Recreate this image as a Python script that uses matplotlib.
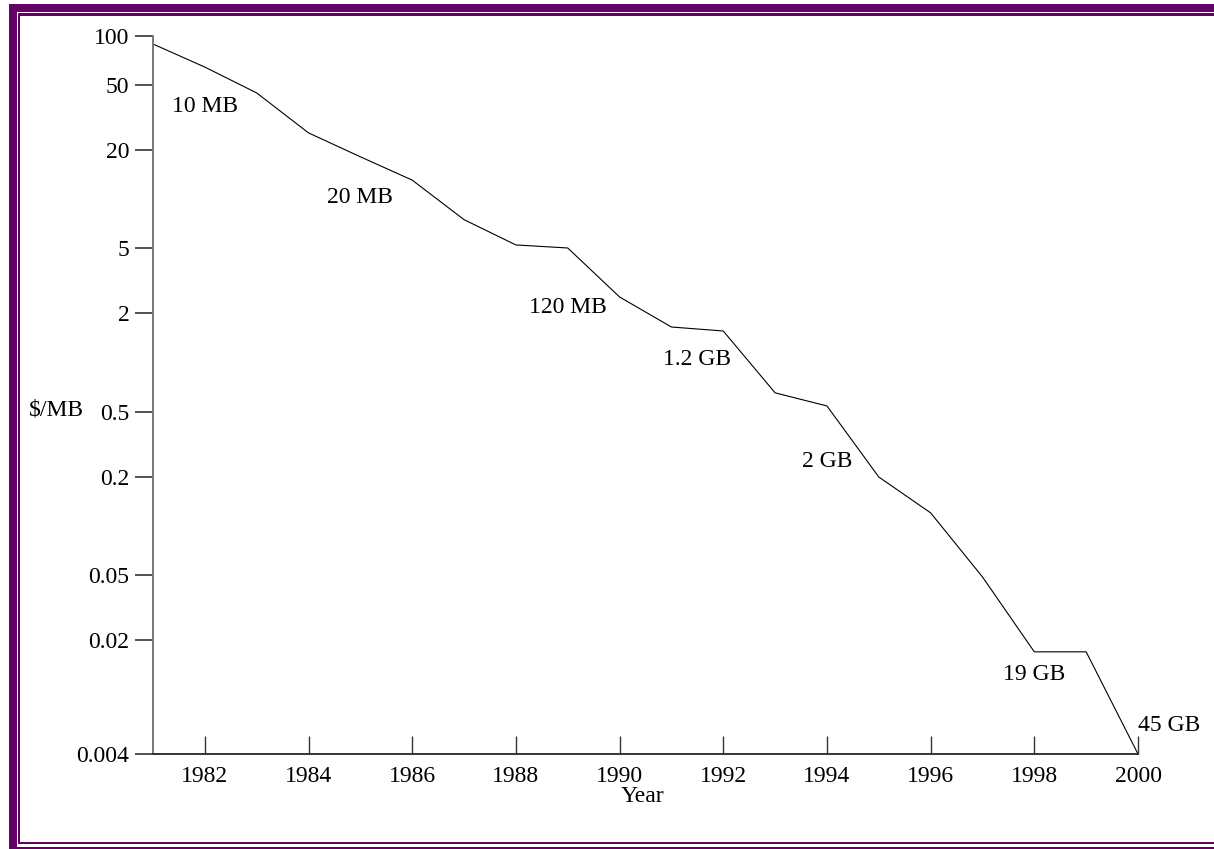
import matplotlib
matplotlib.use("Agg")
import matplotlib.pyplot as plt
from matplotlib.patches import Rectangle
from matplotlib.ticker import FixedLocator, FixedFormatter, NullLocator

# price of disk storage, $ per MB
years = [1981, 1982, 1983, 1984, 1985, 1986, 1987, 1988, 1989, 1990,
         1991, 1992, 1993, 1994, 1995, 1996, 1997, 1998, 1999, 2000]
dollars_per_mb = [89.3, 64.5, 44.8, 25.5, 18.2, 13.1, 7.5, 5.25, 5.03, 2.52,
                  1.65, 1.56, 0.652, 0.542, 0.199, 0.12, 0.0486, 0.0169, 0.0169, 0.004]

# drive capacity notes along the curve
note_texts = ["10 MB", "20 MB", "120 MB", "1.2 GB", "2 GB", "19 GB", "45 GB"]
note_years = [1982.0, 1985.0, 1989.0, 1991.5, 1994.0, 1998.0, 2000.0]
note_values = [37.2, 10.3, 2.16, 1.04, 0.249, 0.0122, 0.0060]

y_ticks = [100, 50, 20, 5, 2, 0.5, 0.2, 0.05, 0.02, 0.004]
y_tick_labels = ["100", "50", "20", "5", "2", "0.5", "0.2", "0.05", "0.02", "0.004"]
x_ticks = [1982, 1984, 1986, 1988, 1990, 1992, 1994, 1996, 1998, 2000]

W, H = 1214, 849
purple = "#660066"

plt.rcParams["font.family"] = ["Liberation Serif", "DejaVu Serif"]
plt.rcParams["font.size"] = 17

fig = plt.figure(figsize=(W / 100, H / 100), dpi=100)
ax = fig.add_axes([153 / W, 1 - 754 / H, (1138 - 153) / W, (754 - 36) / H])

ax.plot(years, dollars_per_mb, color="black", linewidth=0.8)
ax.set_yscale("log")
ax.set_xlim(1981, 2000)
ax.set_ylim(0.004, 100)

ax.yaxis.set_major_locator(FixedLocator(y_ticks))
ax.yaxis.set_major_formatter(FixedFormatter(y_tick_labels))
ax.yaxis.set_minor_locator(NullLocator())
ax.set_xticks(x_ticks)
ax.set_xticklabels([str(y) for y in x_ticks])

for s in ["top", "right"]:
    ax.spines[s].set_visible(False)
ax.spines["left"].set_color("#777777")
ax.spines["left"].set_linewidth(1.4)
ax.spines["bottom"].set_color("#333333")
ax.spines["bottom"].set_linewidth(1.4)

ax.tick_params(axis="y", direction="out", length=13, width=1.2, color="#333333", pad=4)
ax.tick_params(axis="x", direction="in", length=13, width=1.0, color="#333333", pad=9)

for txt, xv, yv in zip(note_texts, note_years, note_values):
    ha = "left" if txt == "45 GB" else "center"
    ax.text(xv, yv, txt, ha=ha, va="center", fontsize=17)

fig.text(56 / W, 1 - 410 / H, "$/MB", ha="center", va="center", fontsize=17)
fig.text(642 / W, 1 - 797 / H, "Year", ha="center", va="center", fontsize=17)


# purple frame around the page
def px_rect(x0, y0, x1, y1):
    fig.add_artist(Rectangle((x0 / W, 1 - y1 / H), (x1 - x0) / W, (y1 - y0) / H,
                             transform=fig.transFigure, color=purple, lw=0))


px_rect(9, 4, W, 11.5)      # top thick band
px_rect(9, 4, 16.5, H)      # left thick band
px_rect(17.5, 13, W, 16)    # top thin line
px_rect(17.5, 13, 20, 844)  # left thin line
px_rect(17.5, 841.5, W, 844)  # bottom inner line
px_rect(9, 846.5, W, H)     # bottom outer line

fig.savefig("out.png", dpi=100)
